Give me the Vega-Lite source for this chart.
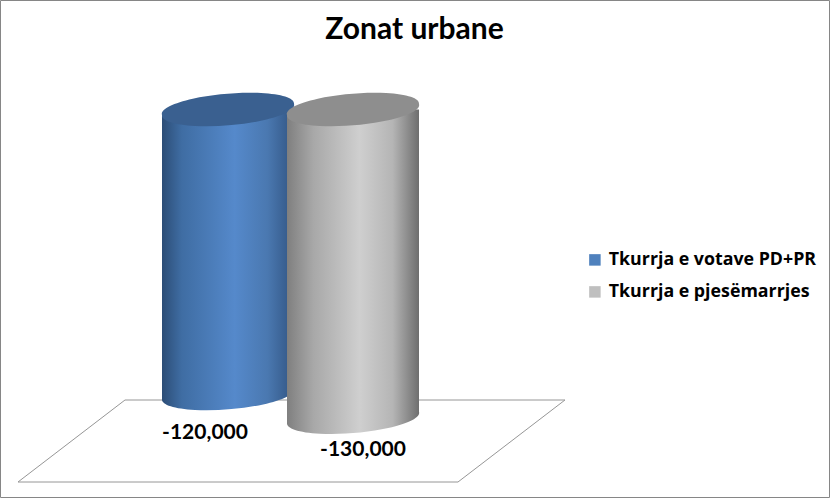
{
"$schema":"https://vega.github.io/schema/vega-lite/v6.json",
"width":829,"height":497,"autosize":"none","padding":{"left":0,"top":0,"right":1,"bottom":1},
"background":"#ffffff",
"config":{"view":{"stroke":"#868686","strokeWidth":1},"locale":{"number":{"decimal":".","thousands":",","grouping":[3],"currency":["$",""],"minus":"-"}}},
"title":{"text":"Zonat urbane","font":"Lato","fontSize":30,"fontWeight":"bold","color":"#000000","anchor":"middle","frame":"group","offset":-45},
"datasets":{
"vlerat":[{"seria":"Tkurrja e votave PD+PR","vlera":-120000},{"seria":"Tkurrja e pjesëmarrjes","vlera":-130000}],
"dyshemeja":[{"rend":1,"gjeresi":15.06,"thellesi":-122736},{"rend":2,"gjeresi":68.07,"thellesi":-122736},{"rend":3,"gjeresi":55.18,"thellesi":-157381},{"rend":4,"gjeresi":2.17,"thellesi":-157381},{"rend":5,"gjeresi":15.06,"thellesi":-122736}]
},
"resolve":{"scale":{"x":"independent"}},
"layer":[
{"data":{"name":"dyshemeja"},
 "mark":{"type":"line","color":"#969696","strokeWidth":1},
 "encoding":{
  "x":{"field":"gjeresi","type":"quantitative","axis":null,"scale":{"domain":[0,100],"range":[0,830],"nice":false,"zero":false}},
  "y":{"field":"thellesi","type":"quantitative","axis":null,"scale":{"domain":[-164141,46264],"range":[498,0],"nice":false,"zero":false}},
  "order":{"field":"rend","type":"quantitative"}}},
{"data":{"name":"vlerat"},
 "encoding":{
  "x":{"field":"seria","type":"nominal","axis":null,"sort":null,"scale":{"type":"band","domain":["Tkurrja e votave PD+PR","Tkurrja e pjesëmarrjes"],"range":[165.5,415.5],"paddingInner":0,"paddingOuter":0}},
  "y":{"field":"vlera","type":"quantitative","axis":null,"stack":null,"scale":{"domain":[-164141,46264],"range":[498,0],"nice":false,"zero":false}}},
 "layer":[
 {"mark":{"type":"point","filled":true,"opacity":1,"size":0},
  "encoding":{"color":{"field":"seria","type":"nominal","scale":{"domain":["Tkurrja e votave PD+PR","Tkurrja e pjesëmarrjes"],"range":["#4f81bd","#bfbfbf"]},
   "legend":{"orient":"none","legendX":586,"legendY":251,"title":null,"symbolType":"square","symbolSize":132,"symbolOpacity":1,"symbolStrokeWidth":0,"labelFont":"Open Sans","labelFontSize":17.8,"labelFontWeight":"bold","labelColor":"#000000","rowPadding":13,"labelLimit":400,"labelOffset":5}}}},
 {"transform":[{"filter":"datum.vlera === -120000"}],
  "layer":[
  {"mark":{"type":"bar","size":132,"cornerRadiusTopLeft":8,"cornerRadiusBottomRight":6,"fill":{"gradient":"linear","x1":0,"y1":0,"x2":1,"y2":0,"stops":[{"offset":0,"color":"#2c4d76"},{"offset":0.15,"color":"#3f6da3"},{"offset":0.55,"color":"#5589cb"},{"offset":0.8,"color":"#4a78b0"},{"offset":1,"color":"#315482"}]}}},
  {"mark":{"type":"point","filled":true,"opacity":1,"size":17424,"shape":"M-1,-0.6L-1,0.083A1.005,0.228,-4.76,1,0,1,-0.083L1,-0.6Z","fill":{"gradient":"linear","x1":0,"y1":0,"x2":1,"y2":0,"stops":[{"offset":0,"color":"#2c4d76"},{"offset":0.15,"color":"#3f6da3"},{"offset":0.55,"color":"#5589cb"},{"offset":0.8,"color":"#4a78b0"},{"offset":1,"color":"#315482"}]}}},
  {"mark":{"type":"point","filled":true,"opacity":1,"size":17424,"color":"#3a6090","shape":"M-1,0.083A1.005,0.228,-4.76,1,1,1,-0.083A1.005,0.228,-4.76,1,1,-1,0.083Z"},
   "encoding":{"y":{"datum":0,"type":"quantitative"}}},
  {"mark":{"type":"text","font":"Lato","fontSize":21,"fontWeight":"bold","color":"#000000","dx":-23,"dy":39},
   "encoding":{"text":{"field":"vlera","type":"quantitative","format":","}}}
  ]},
 {"transform":[{"filter":"datum.vlera === -130000"}],
  "layer":[
  {"mark":{"type":"bar","size":132,"cornerRadiusTopLeft":8,"cornerRadiusBottomRight":6,"fill":{"gradient":"linear","x1":0,"y1":0,"x2":1,"y2":0,"stops":[{"offset":0,"color":"#7f7f7f"},{"offset":0.2,"color":"#a8a8a8"},{"offset":0.55,"color":"#cfcfcf"},{"offset":0.8,"color":"#b5b5b5"},{"offset":1,"color":"#6e6e6e"}]}}},
  {"mark":{"type":"point","filled":true,"opacity":1,"size":17424,"shape":"M-1,-0.6L-1,0.083A1.005,0.228,-4.76,1,0,1,-0.083L1,-0.6Z","fill":{"gradient":"linear","x1":0,"y1":0,"x2":1,"y2":0,"stops":[{"offset":0,"color":"#7f7f7f"},{"offset":0.2,"color":"#a8a8a8"},{"offset":0.55,"color":"#cfcfcf"},{"offset":0.8,"color":"#b5b5b5"},{"offset":1,"color":"#6e6e6e"}]}}},
  {"mark":{"type":"point","filled":true,"opacity":1,"size":17424,"color":"#8e8e8e","shape":"M-1,0.083A1.005,0.228,-4.76,1,1,1,-0.083A1.005,0.228,-4.76,1,1,-1,0.083Z"},
   "encoding":{"y":{"datum":0,"type":"quantitative"}}},
  {"mark":{"type":"text","font":"Lato","fontSize":21,"fontWeight":"bold","color":"#000000","dx":10,"dy":33},
   "encoding":{"text":{"field":"vlera","type":"quantitative","format":","}}}
  ]}
 ]}
]}
